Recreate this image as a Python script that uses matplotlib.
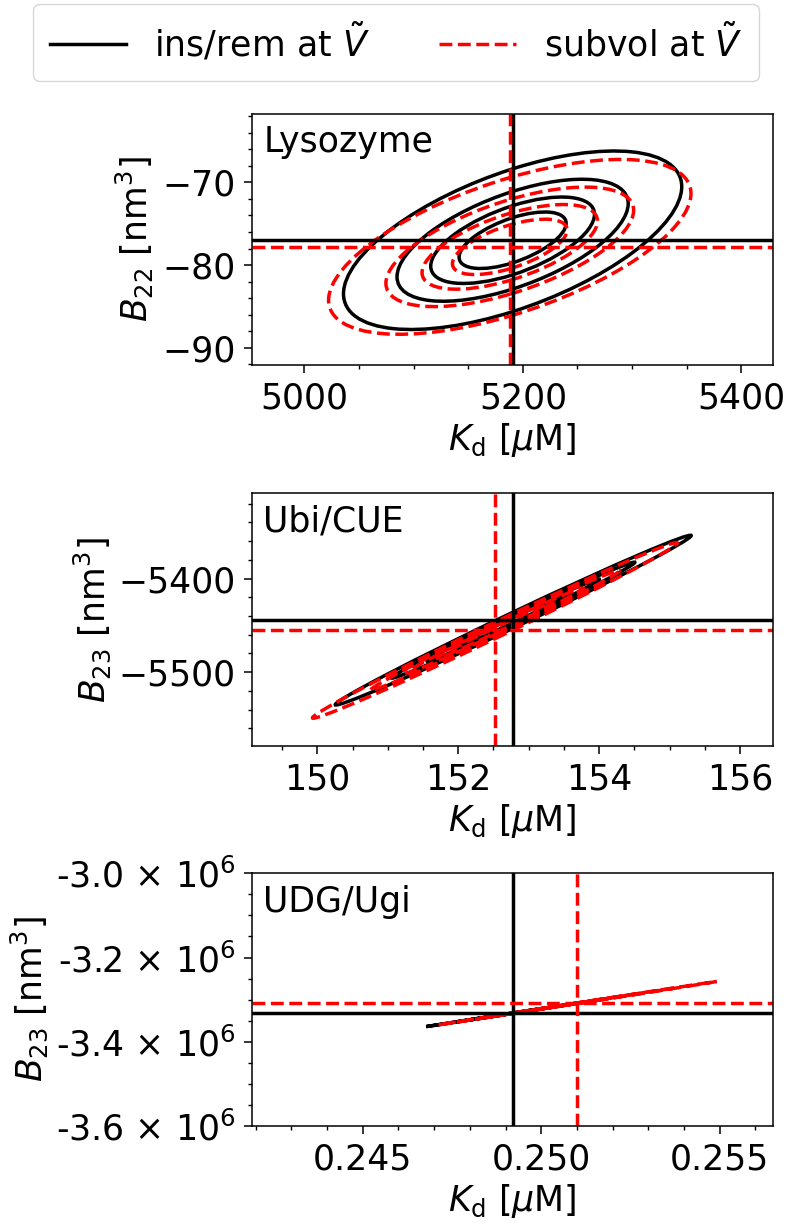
import numpy as np
import matplotlib
matplotlib.use("Agg")
import matplotlib.pyplot as plt
from matplotlib.patches import Circle
from matplotlib.transforms import Affine2D
from matplotlib.lines import Line2D
from matplotlib.ticker import MultipleLocator

# systems shown, one panel each
systems = ["Lysozyme", "Ubi/CUE", "UDG/Ugi"]
y_labels = [r"$B_{22}$ [nm$^3$]", r"$B_{23}$ [nm$^3$]", r"$B_{23}$ [nm$^3$]"]
x_label = r"$K_\mathrm{d}$ [$\mu$M]"

# confidence levels of the contours (in units of sigma)
levels = [1.0, 1.53, 2.16, 3.16]

# ins/rem at V~ : estimate, spread and correlation of (Kd, B)
ins_kd = [5190.6, 152.78, 0.24922]
ins_b = [-77.0, -5444.5, -3.332e6]
ins_sd_kd = [49.0, 0.80, 0.000772]
ins_sd_b = [3.42, 28.7, 10130.0]
ins_rho = [0.60, 0.9955, 0.9999]

# subvol at V~
sub_kd = [5188.0, 152.52, 0.25101]
sub_b = [-77.8, -5455.5, -3.3085e6]
sub_sd_kd = [52.5, 0.82, 0.001234]
sub_sd_b = [3.35, 29.7, 16300.0]
sub_rho = [0.61, 0.9955, 0.9999]

# axes ranges and ticks
x_lims = [(4952, 5429), (149.07, 156.47), (0.2419, 0.25649)]
y_lims = [(-92.1, -61.7), (-5579, -5309), (-3.6e6, -3.0e6)]
x_ticks = [[5000, 5200, 5400], [150, 152, 154, 156], [0.245, 0.250, 0.255]]
y_ticks = [[-90, -80, -70], [-5500, -5400], [-3.6e6, -3.4e6, -3.2e6, -3.0e6]]
x_minor = [50, 0.5, 0.001]
y_minor = [2, 20, 50000]

plt.rcParams.update({
    "font.size": 25,
    "axes.linewidth": 1.1,
    "xtick.major.size": 6, "ytick.major.size": 6,
    "xtick.minor.size": 3.2, "ytick.minor.size": 3.2,
    "xtick.major.width": 1.1, "ytick.major.width": 1.1,
    "xtick.minor.width": 1.0, "ytick.minor.width": 1.0,
    "xtick.major.pad": 6, "ytick.major.pad": 6,
    "xtick.labelsize": 25, "ytick.labelsize": 25,
})


def add_ellipse(ax, kd, b, sd_kd, sd_b, rho, k, **kw):
    # unit circle mapped onto the covariance ellipse
    m = np.array([[sd_kd, 0.0, kd],
                  [rho * sd_b, np.sqrt(1 - rho ** 2) * sd_b, b],
                  [0.0, 0.0, 1.0]])
    patch = Circle((0, 0), k, fill=False, transform=Affine2D(m) + ax.transData, **kw)
    ax.add_patch(patch)


fig = plt.figure(figsize=(7.92, 12.3), dpi=100)
positions = [[0.3182, 0.7033, 0.6578, 0.2041],
             [0.3182, 0.3935, 0.6578, 0.2054],
             [0.3182, 0.0846, 0.6578, 0.2054]]

lw = 2.5
for i, name in enumerate(systems):
    ax = fig.add_axes(positions[i])
    for k in levels:
        add_ellipse(ax, ins_kd[i], ins_b[i], ins_sd_kd[i], ins_sd_b[i], ins_rho[i], k,
                    edgecolor="black", lw=lw)
    ax.axvline(ins_kd[i], color="black", lw=lw)
    ax.axhline(ins_b[i], color="black", lw=lw)
    for k in levels:
        add_ellipse(ax, sub_kd[i], sub_b[i], sub_sd_kd[i], sub_sd_b[i], sub_rho[i], k,
                    edgecolor="red", lw=lw, ls="--")
    ax.axvline(sub_kd[i], color="red", lw=lw, ls="--")
    ax.axhline(sub_b[i], color="red", lw=lw, ls="--")

    ax.set_xlim(x_lims[i])
    ax.set_ylim(y_lims[i])
    if i == 2:
        ax.set_xticks(x_ticks[i], ["%.3f" % v for v in x_ticks[i]])
        ax.set_yticks(y_ticks[i], ["%.1f" % (v / 1e6) + r" $\times$ 10$^6$" for v in y_ticks[i]])
    else:
        ax.set_xticks(x_ticks[i])
        ax.set_yticks(y_ticks[i])
    ax.xaxis.set_minor_locator(MultipleLocator(x_minor[i]))
    ax.yaxis.set_minor_locator(MultipleLocator(y_minor[i]))
    ax.set_xlabel(x_label)
    ax.set_ylabel(y_labels[i])
    ax.text(0.022, 0.955, name, transform=ax.transAxes, ha="left", va="top", fontsize=25)

handles = [Line2D([], [], color="black", lw=lw),
           Line2D([], [], color="red", lw=lw, ls="--")]
labels = [r"ins/rem at $\tilde{V}$", r"subvol at $\tilde{V}$"]
fig.legend(handles, labels, loc="upper center", bbox_to_anchor=(0.5, 0.997),
           ncol=2, fontsize=25, handlelength=2.2, borderpad=0.5, borderaxespad=0)

fig.savefig("out.png", dpi=100)
